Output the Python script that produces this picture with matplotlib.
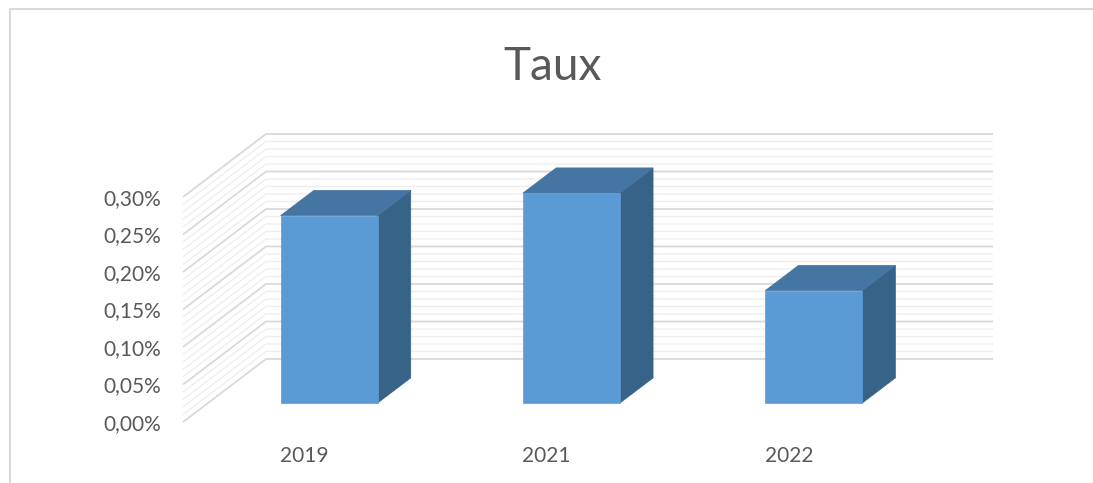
import matplotlib
matplotlib.use("Agg")
import matplotlib.pyplot as plt
from matplotlib.patches import Polygon, Rectangle
import numpy as np

# ---- data ----
categories = ["2019", "2021", "2022"]
values = [0.25, 0.28, 0.15]          # percent
tick_values = [0.00, 0.05, 0.10, 0.15, 0.20, 0.25, 0.30]
tick_labels = ["0,00%", "0,05%", "0,10%", "0,15%", "0,20%", "0,25%", "0,30%"]
title = "Taux"

# ---- style ----
W, H = 1093, 483
FRONT = "#5b9bd5"
TOP = "#4575a2"
SIDE = "#386389"
GRID_MAJ = "#d9d9d9"
GRID_MIN = "#eeeeee"
TXT = "#595959"
FONT = "Lato"

fig = plt.figure(figsize=(W / 100, H / 100), dpi=100)

# plot area in pixels: front-left x=183, back-right x=993, bottom y=422, top y=133
px_l, px_r, px_b, px_t = 183, 993, 422, 134
ax = fig.add_axes([px_l / W, (H - px_b) / H, (px_r - px_l) / W, (px_b - px_t) / H])

cat_px = 242.33               # pixels per category in front plane
val_px = 750.0                # pixels per 1 %
DX = 83 / cat_px              # depth shift in x data units
DY = 63 / val_px              # depth shift in y data units
n = len(categories)
ax.set_xlim(0, n + DX)
ax.set_ylim(0, 0.30 + DY)

# gridlines on side wall and back wall
levels = np.round(np.arange(0, 0.3001, 0.01), 4)
for lv in levels:
    major = abs(round(lv / 0.05) * 0.05 - lv) < 1e-9
    ax.plot([0, DX, n + DX], [lv, lv + DY, lv + DY],
            color=GRID_MAJ if major else GRID_MIN,
            lw=1.3 if major else 1.0, zorder=1 if major else 0.5,
            solid_capstyle="butt", clip_on=False)

# bars
bw = 0.4
d0, d1 = 0.3, 0.7
for i, v in enumerate(values):
    c = i + 0.5
    xl = c - bw / 2 + d0 * DX
    xr = c + bw / 2 + d0 * DX
    yb = d0 * DY
    yt = v + d0 * DY
    ddx = (d1 - d0) * DX
    ddy = (d1 - d0) * DY
    side = Polygon([(xr, yb), (xr + ddx, yb + ddy), (xr + ddx, yt + ddy), (xr, yt)],
                   closed=True, facecolor=SIDE, edgecolor=SIDE, lw=0.5, zorder=3)
    top = Polygon([(xl, yt), (xr, yt), (xr + ddx, yt + ddy), (xl + ddx, yt + ddy)],
                  closed=True, facecolor=TOP, edgecolor=TOP, lw=0.5, zorder=3)
    front = Polygon([(xl, yb), (xr, yb), (xr, yt), (xl, yt)],
                    closed=True, facecolor=FRONT, edgecolor=FRONT, lw=0.5, zorder=4)
    for p in (side, top, front):
        p.set_clip_on(False)
        ax.add_patch(p)

# axes ticks and labels
ax.set_yticks(tick_values)
ax.set_yticklabels(tick_labels, fontsize=15, color=TXT, family=FONT)
ax.set_xticks([i + 0.5 for i in range(n)])
ax.set_xticklabels(categories, fontsize=15, color=TXT, family=FONT)
ax.tick_params(axis="y", length=0, pad=16)
ax.tick_params(axis="x", length=0, pad=17)
for s in ax.spines.values():
    s.set_visible(False)
ax.set_facecolor("none")

# title
fig.text(553 / W, (H - 80) / H, title, ha="center", va="baseline",
         fontsize=33, color=TXT, family=FONT, fontweight="normal")

# outer chart border
fig.patches.append(Rectangle((9.5 / W, -0.1), 1.2, (H - 9.5) / H + 0.1,
                             transform=fig.transFigure, fill=False,
                             edgecolor="#d9d9d9", lw=1.5))

fig.savefig("out.png", dpi=100)
